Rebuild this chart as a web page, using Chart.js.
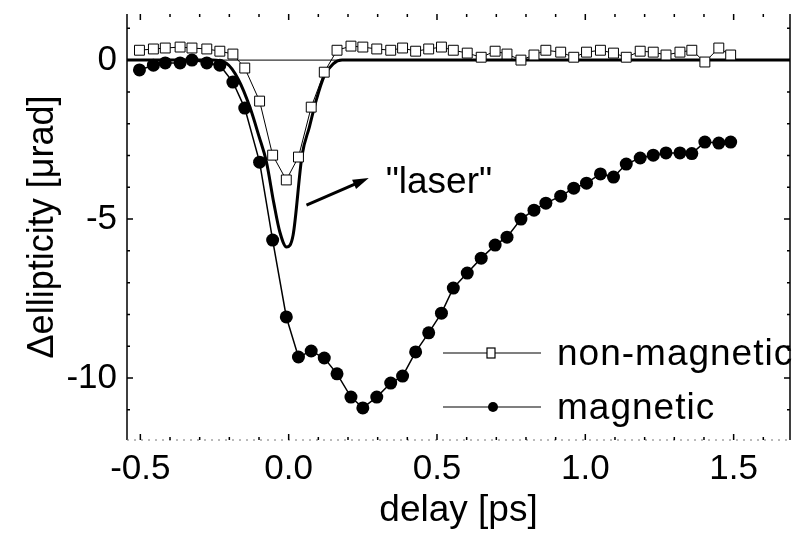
<!DOCTYPE html>
<html>
<head>
<meta charset="utf-8">
<script src="https://cdn.jsdelivr.net/npm/chart.js@4.4.0/dist/chart.umd.min.js"></script>
<style>
html, body { margin: 0; padding: 0; background: #fff; }
</style>
</head>
<body>
<canvas id="myChart" width="798" height="535"></canvas>
<script>
// delays [ps] and signals [urad]
var delay = [-0.503, -0.456, -0.416, -0.366, -0.326, -0.276, -0.232, -0.188, -0.148, -0.098,
    -0.054, -0.008, 0.033, 0.076, 0.120, 0.163, 0.210, 0.250, 0.297, 0.344,
    0.384, 0.428, 0.472, 0.515, 0.555, 0.602, 0.649, 0.696, 0.736, 0.783,
    0.827, 0.867, 0.917, 0.961, 1.004, 1.051, 1.095, 1.138, 1.185, 1.229,
    1.272, 1.319, 1.359, 1.403, 1.450, 1.490];
var magnetic = [-0.31, -0.16, -0.09, -0.09, 0.0, -0.09, -0.16, -0.69, -1.51, -3.21,
    -5.66, -8.08, -9.34, -9.15, -9.37, -9.87, -10.6, -10.94, -10.6, -10.16,
    -9.94, -9.18, -8.58, -7.96, -7.17, -6.70, -6.23, -5.82, -5.57, -5.00,
    -4.72, -4.50, -4.28, -4.03, -3.87, -3.58, -3.68, -3.27, -3.08, -2.99,
    -2.92, -2.92, -2.94, -2.58, -2.61, -2.58];
var nonMagnetic = [0.31, 0.35, 0.38, 0.41, 0.38, 0.35, 0.28, 0.19, -0.25, -1.29,
    -2.99, -3.77, -3.05, -1.48, -0.38, 0.31, 0.44, 0.41, 0.35, 0.31,
    0.38, 0.28, 0.35, 0.41, 0.31, 0.22, 0.09, 0.28, 0.19, 0.0,
    0.16, 0.31, 0.25, 0.09, 0.25, 0.31, 0.22, 0.09, 0.28, 0.25,
    0.16, 0.25, 0.31, -0.06, 0.38, 0.16];
var laserDelay = [-0.545, -0.26, -0.21, -0.17, -0.13, -0.1, -0.075, -0.05, -0.03, -0.007,
    0.015, 0.045, 0.07, 0.093, 0.12, 0.15, 0.18, 1.69];
var laserSignal = [0, 0, -0.1, -0.6, -1.5, -2.4, -3.2, -4.5, -5.4, -5.88,
    -5.5, -3.0, -2.1, -1.26, -0.5, -0.12, 0, 0];
var xTickLabels = ['-0.5', '0.0', '0.5', '1.0', '1.5'];
var yTickLabels = ['0', '-5', '-10'];

var fonte = '"Liberation Sans", Arial, sans-serif';

function pontos(xs, ys) {
    var out = [];
    for (var i = 0; i < xs.length; i++) out.push({ x: xs[i], y: ys[i] });
    return out;
}

function rotuloX(v) {
    var s = Number(v).toFixed(1);
    return xTickLabels.indexOf(s) >= 0 ? s : '';
}
function rotuloY(v) {
    var s = String(Math.round(v));
    return yTickLabels.indexOf(s) >= 0 ? s : '';
}

// zero line, frame and inward ticks
var moldura = {
    id: 'moldura',
    beforeDatasetsDraw: function (chart) {
        var ctx = chart.ctx, a = chart.chartArea;
        var y0 = chart.scales.y.getPixelForValue(0);
        ctx.save();
        ctx.strokeStyle = '#000';
        ctx.lineWidth = 1;
        ctx.beginPath();
        ctx.moveTo(a.left, y0);
        ctx.lineTo(a.right, y0);
        ctx.stroke();
        ctx.restore();
    },
    afterDraw: function (chart) {
        var ctx = chart.ctx, a = chart.chartArea;
        var sx = chart.scales.x, sy = chart.scales.y;
        ctx.save();
        ctx.strokeStyle = '#000';
        ctx.lineWidth = 1.5;
        ctx.beginPath();
        ctx.moveTo(a.left, a.top); ctx.lineTo(a.left, a.bottom);
        ctx.moveTo(a.right, a.top); ctx.lineTo(a.right, a.bottom);
        ctx.stroke();
        ctx.lineWidth = 1;
        ctx.strokeStyle = '#777';
        ctx.setLineDash([2, 5]);
        ctx.beginPath();
        ctx.moveTo(a.left, a.bottom); ctx.lineTo(a.right, a.bottom);
        ctx.stroke();
        ctx.setLineDash([]);
        ctx.strokeStyle = '#000';
        ctx.lineWidth = 1.5;
        ctx.beginPath();
        sx.ticks.forEach(function (t) {
            var px = sx.getPixelForValue(t.value);
            var len = rotuloX(t.value) ? 6 : 3;
            ctx.moveTo(px, a.bottom); ctx.lineTo(px, a.bottom - len);
            ctx.moveTo(px, a.top); ctx.lineTo(px, a.top + len);
        });
        sy.ticks.forEach(function (t) {
            var py = sy.getPixelForValue(t.value);
            var len = rotuloY(t.value) ? 6 : 3;
            ctx.moveTo(a.left, py); ctx.lineTo(a.left + len, py);
            ctx.moveTo(a.right, py); ctx.lineTo(a.right - len, py);
        });
        ctx.stroke();

        // "laser" label and arrow
        var tx = sx.getPixelForValue(0.327), ty = sy.getPixelForValue(-4.18);
        ctx.fillStyle = '#000';
        ctx.font = '37px ' + fonte;
        ctx.textBaseline = 'alphabetic';
        ctx.textAlign = 'left';
        ctx.fillText('"laser"', tx, ty);
        var x1 = sx.getPixelForValue(0.06), y1 = sy.getPixelForValue(-4.56);
        var x2 = sx.getPixelForValue(0.27), y2 = sy.getPixelForValue(-3.71);
        var ang = Math.atan2(y2 - y1, x2 - x1);
        ctx.lineWidth = 3;
        ctx.beginPath();
        ctx.moveTo(x1, y1);
        ctx.lineTo(x2 - 12 * Math.cos(ang), y2 - 12 * Math.sin(ang));
        ctx.stroke();
        ctx.beginPath();
        ctx.moveTo(x2, y2);
        ctx.lineTo(x2 - 16 * Math.cos(ang) + 5 * Math.sin(ang), y2 - 16 * Math.sin(ang) - 5 * Math.cos(ang));
        ctx.lineTo(x2 - 16 * Math.cos(ang) - 5 * Math.sin(ang), y2 - 16 * Math.sin(ang) + 5 * Math.cos(ang));
        ctx.closePath();
        ctx.fill();

        // legend
        var linhas = [
            { text: 'non-magnetic', y: 353, square: true },
            { text: 'magnetic', y: 407, square: false }
        ];
        ctx.font = '37px ' + fonte;
        ctx.textBaseline = 'middle';
        linhas.forEach(function (l) {
            ctx.lineWidth = 1.2;
            ctx.beginPath();
            ctx.moveTo(443, l.y); ctx.lineTo(541, l.y);
            ctx.stroke();
            if (l.square) {
                ctx.fillStyle = '#fff';
                ctx.fillRect(487, l.y - 5, 8, 10);
                ctx.strokeRect(487, l.y - 5, 8, 10);
            } else {
                ctx.fillStyle = '#000';
                ctx.beginPath();
                ctx.arc(493, l.y, 5, 0, Math.PI * 2);
                ctx.fill();
            }
            ctx.fillStyle = '#000';
            ctx.letterSpacing = '1px';
            ctx.fillText(l.text, 557, l.y + 2);
            ctx.letterSpacing = '0px';
        });
        ctx.restore();
    }
};

var ctx = document.getElementById('myChart').getContext('2d');
var myChart = new Chart(ctx, {
    type: 'scatter',
    data: {
        datasets: [{
            label: 'magnetic',
            data: pontos(delay, magnetic),
            showLine: true,
            borderColor: '#000',
            borderWidth: 1.5,
            backgroundColor: '#000',
            pointStyle: 'circle',
            pointRadius: 6.5,
            pointBorderWidth: 0,
            tension: 0
        }, {
            label: 'non-magnetic',
            data: pontos(delay, nonMagnetic),
            showLine: true,
            borderColor: '#000',
            borderWidth: 1,
            backgroundColor: '#fff',
            pointStyle: 'rect',
            pointRadius: 7,
            pointBorderWidth: 1,
            tension: 0
        }, {
            label: 'laser',
            data: pontos(laserDelay, laserSignal),
            showLine: true,
            borderColor: '#000',
            borderWidth: 3,
            pointRadius: 0,
            tension: 0.4,
            cubicInterpolationMode: 'monotone'
        }]
    },
    options: {
        responsive: false,
        animation: false,
        layout: { padding: { top: 14, right: 5, left: 0, bottom: 0 } },
        plugins: {
            legend: { display: false },
            tooltip: { enabled: false }
        },
        scales: {
            x: {
                type: 'linear',
                min: -0.545,
                max: 1.69,
                grid: { display: false, drawTicks: false },
                border: { display: false },
                ticks: {
                    stepSize: 0.1,
                    includeBounds: false,
                    autoSkip: false,
                    maxRotation: 0,
                    padding: 8,
                    color: '#000',
                    font: { size: 35, family: fonte },
                    callback: rotuloX
                },
                title: {
                    display: true,
                    text: 'delay [ps]',
                    color: '#000',
                    font: { size: 37, family: fonte, lineHeight: 1 },
                    padding: { top: 0, bottom: 6 }
                },
                afterFit: function (s) {
                    s.height = 95;
                    s.paddingLeft = 0;
                    s.paddingRight = 0;
                }
            },
            y: {
                min: -11.95,
                max: 1.45,
                grid: { display: false, drawTicks: false },
                border: { display: false },
                ticks: {
                    stepSize: 1,
                    includeBounds: false,
                    autoSkip: false,
                    padding: 10,
                    color: '#000',
                    font: { size: 35, family: fonte },
                    callback: rotuloY
                },
                title: {
                    display: true,
                    text: 'Δellipticity [μrad]',
                    color: '#000',
                    font: { size: 36, family: fonte, lineHeight: 1 },
                    padding: { top: 25, bottom: 0 }
                },
                afterFit: function (s) {
                    s.width = 127;
                    s.paddingTop = 0;
                    s.paddingBottom = 0;
                }
            }
        }
    },
    plugins: [moldura]
});
</script>
</body>
</html>
